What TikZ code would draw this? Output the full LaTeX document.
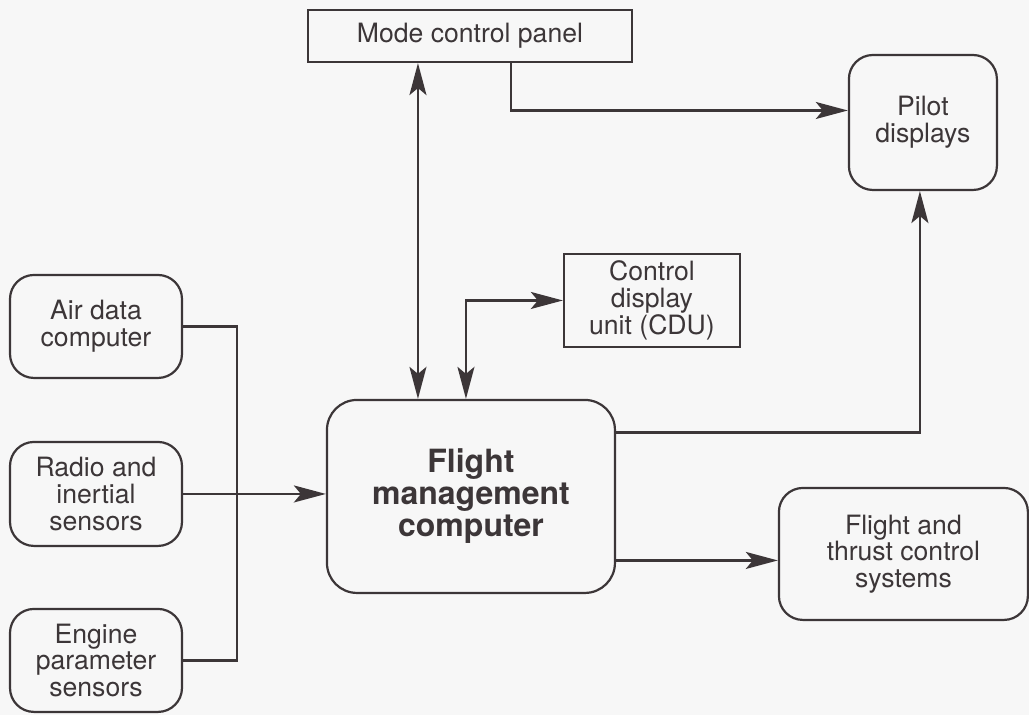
\documentclass[tikz,border=0pt]{standalone}
\usepackage{fontspec}
\setmainfont{TeX Gyre Heros}
\usepackage{tikz}
\usepackage{xcolor}
\usetikzlibrary{arrows.meta, positioning, calc}
\definecolor{inkgray}{RGB}{60,54,56}
\definecolor{paper}{RGB}{247,247,247}

\tikzset{
    blockbox/.style={draw=inkgray, line width=1.1pt, inner sep=0pt, align=center,
        text=inkgray, font=\fontsize{13.3pt}{13.3pt}\selectfont},
    roundbox/.style={blockbox, rounded corners=12pt},
    link/.style={draw=inkgray, line width=1.1pt},
    arr/.tip={Stealth[length=16pt, width=8.5pt, inset=3.5pt]}
}

\begin{document}
\begin{tikzpicture}[x=0.5pt, y=-0.5pt]
    % ---- SFONDO ----
    \fill[paper] (0,0) rectangle (1029,715);

    % ---- BLOCCHI ----
    \node[blockbox, minimum width=162pt, minimum height=26pt] (mcp) at (470,36) {Mode control panel};
    \node[roundbox, minimum width=74pt, minimum height=67.5pt] (pilot) at (923,122.5) {Pilot\\displays};
    \node[blockbox, minimum width=88pt, minimum height=46.5pt] (cdu) at (652,300.5) {Control\\display\\unit (CDU)};
    \node[roundbox, minimum width=86pt, minimum height=51.5pt] (air) at (96,326.5) {Air data\\computer};
    \node[roundbox, minimum width=86pt, minimum height=52pt] (radio) at (96,494) {Radio and\\inertial\\sensors};
    \node[roundbox, minimum width=86pt, minimum height=51.5pt] (engine) at (96,660.5) {Engine\\parameter\\sensors};
    \node[roundbox, rounded corners=15pt, minimum width=144pt, minimum height=96.5pt,
          font=\fontsize{16pt}{16pt}\selectfont\bfseries] (fmc) at (471,496.5) {Flight\\management\\computer};
    \node[roundbox, minimum width=124.5pt, minimum height=66pt] (fts) at (903.5,554) {Flight and\\thrust control\\systems};

    % ---- SENSORI -> FMC ----
    \coordinate (bus) at (237,494);
    \draw[link] (air.east) -| (bus) |- (engine.east);
    \draw[link, -arr] (radio.east) -- (radio.east -| fmc.west);

    % ---- MCP <-> FMC ----
    \draw[link, arr-arr] ([xshift=-26pt]mcp.south) -- ([xshift=-26pt]mcp.south |- fmc.north);

    % ---- FMC <-> CDU ----
    \draw[link, arr-arr] (cdu.west) -| ([xshift=-2.5pt]fmc.north);

    % ---- MCP -> PILOT DISPLAYS ----
    \draw[link, -arr] ([xshift=20.5pt]mcp.south) |- ([yshift=6pt]pilot.west);

    % ---- FMC -> PILOT DISPLAYS ----
    \draw[link, -arr] ([yshift=32pt]fmc.east) -| ([xshift=-1.5pt]pilot.south);

    % ---- FMC -> FLIGHT AND THRUST ----
    \coordinate (fmcout) at ([yshift=-32pt]fmc.east);
    \draw[link, -arr] (fmcout) -- (fmcout -| fts.west);
\end{tikzpicture}
\end{document}
